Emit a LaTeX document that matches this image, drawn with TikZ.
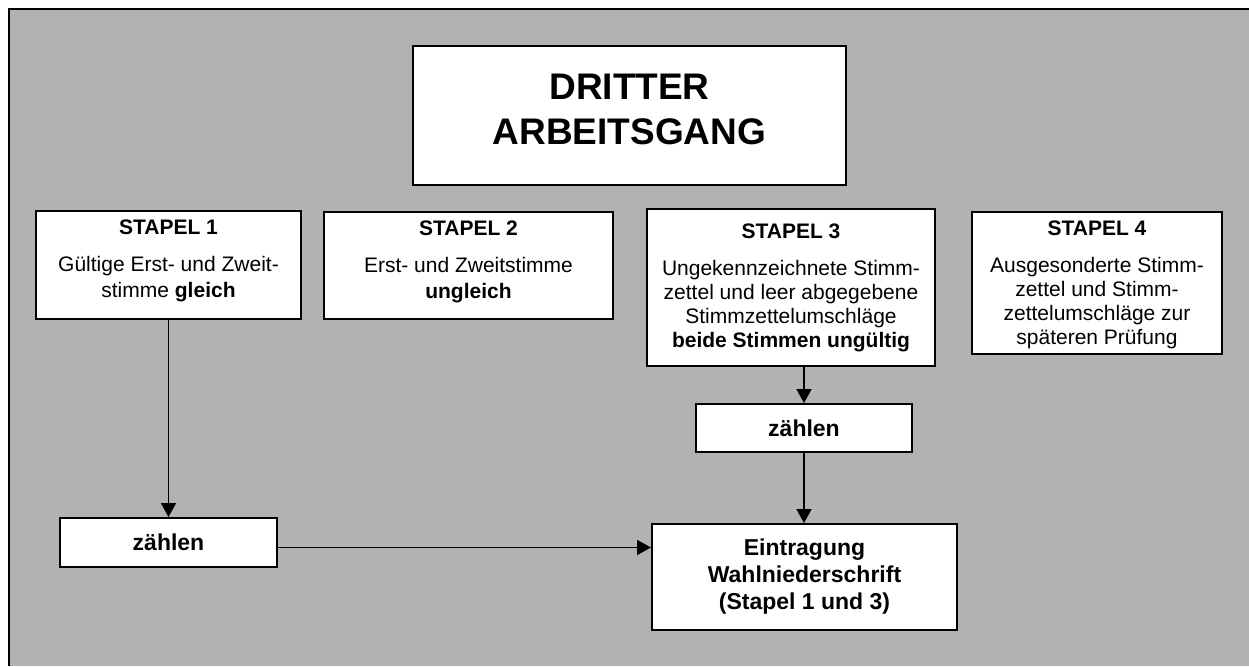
\documentclass[tikz,border=0pt]{standalone}
\usepackage{fontspec}
\setmainfont{Liberation Sans}
\usepackage{xcolor}
\usetikzlibrary{arrows.meta,positioning}
\definecolor{bggray}{RGB}{178,178,178}

\begin{document}
\begin{tikzpicture}[x=0.5pt,y=-0.5pt,
                box/.style 2 args={draw,line width=1pt,fill=white,inner sep=0pt,
                        align=center,minimum width=#1*0.5pt,minimum height=#2*0.5pt},
                stapel/.style={font=\fontsize{10.5}{12}\selectfont},
                fett/.style={font=\fontsize{11.5}{13.5}\selectfont\bfseries},
                pfeil/.style={line width=0.9pt,-{Triangle[length=7pt,width=7.5pt]}}]
            \useasboundingbox (0,0) rectangle (1249,666);
            \fill[bggray] (9,9) rectangle (1249,666);
            \draw[line width=1pt] (9,666) -- (9,9) -- (1249,9);
            \node[box={433}{139},font=\fontsize{18.5}{22.5}\selectfont\bfseries,
                text depth=6pt] (titel) at (629.5,115.5) {DRITTER\\ARBEITSGANG};
            \node[box={265}{108},stapel,text depth=6pt] (s1) at (168.5,265)
            {\textbf{STAPEL 1}\\[6.5pt]Gültige Erst- und Zweit-\\[1pt]stimme \textbf{gleich}};
            \node[box={289}{107},stapel,text depth=6pt] (s2) at (468.5,265.5)
            {\textbf{STAPEL 2}\\[6.5pt]Erst- und Zweitstimme\\[1pt]\textbf{ungleich}};
            \node[box={288}{157},stapel] (s3) at (791,287.5)
            {\textbf{STAPEL 3}\\[6.5pt]Ungekennzeichnete Stimm-\\zettel und leer abgegebene\\
                Stimmzettelumschläge\\\textbf{beide Stimmen ungültig}};
            \node[box={250}{142},stapel,text depth=0pt] (s4) at (1097,283)
            {\textbf{STAPEL 4}\\[6.5pt]Ausgesonderte Stimm-\\zettel und Stimm-\\
                zettelumschläge zur\\späteren Prüfung};
            \node[box={216}{48},fett] (z3) at (804,428) {zählen};
            \node[box={217}{49},fett] (z1) at (168.5,542.5) {zählen};
            \node[box={305}{106},fett] (ein) at (804.5,577)
            {Eintragung\\Wahlniederschrift\\(Stapel 1 und 3)};
            %
            \draw[pfeil] (s1.south) -- (z1.north);
            \draw[pfeil] (s3.south -| z3.north) -- (z3.north);
            \draw[pfeil] (z3.south) -- (z3.south |- ein.north);
            \draw[pfeil] ([yshift=-2.5pt]z1.east) -- ([yshift=-2.5pt]z1.east -| ein.west);
        \end{tikzpicture}
\end{document}
